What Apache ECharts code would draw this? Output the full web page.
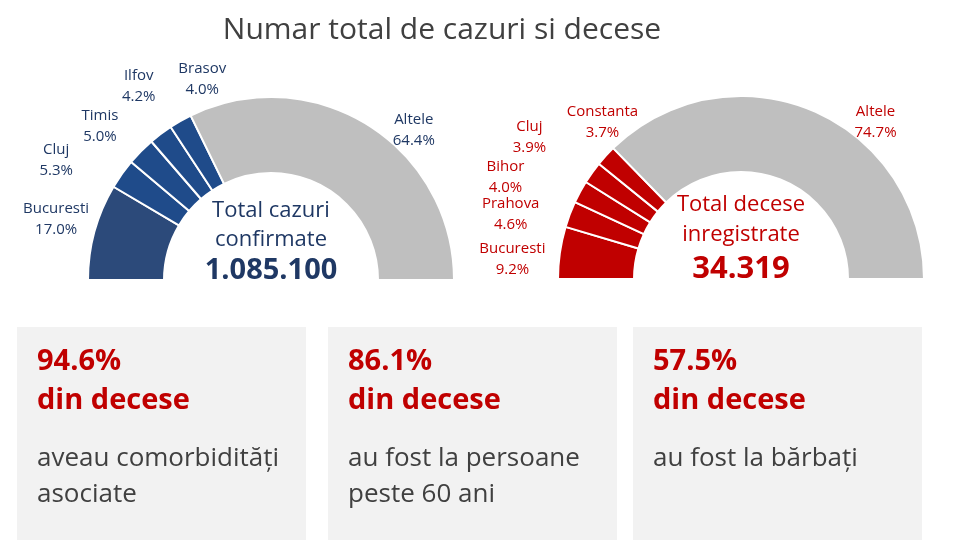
<!DOCTYPE html>
<html>
<head>
<meta charset="utf-8">
<script src="https://cdn.jsdelivr.net/npm/echarts@6/dist/echarts.min.js"></script>
<style>html,body{margin:0;padding:0;background:#fff}#main{width:961px;height:556px}</style>
</head>
<body>
<div id="main"></div>
<script>
// cazuri confirmate pe judete (%)
var cazuriJudete = ['Bucuresti', 'Cluj', 'Timis', 'Ilfov', 'Brasov', 'Altele'];
var cazuriProc = [17.0, 5.3, 5.0, 4.2, 4.0, 64.4];
// decese pe judete (%)
var deceseJudete = ['Bucuresti', 'Prahova', 'Bihor', 'Cluj', 'Constanta', 'Altele'];
var deceseProc = [9.2, 4.6, 4.0, 3.9, 3.7, 74.7];
var totalCazuri = '1.085.100';
var totalDecese = '34.319';
// casetele de jos
var caseteProc = ['94.6%', '86.1%', '57.5%'];
var caseteText = [['aveau comorbidități', 'asociate'], ['au fost la persoane', 'peste 60 ani'], ['au fost la bărbați']];

var FONT = 'Open Sans';
var BLUE = '#1F3864', RED = '#C00000', GREY = '#BFBFBF', TXT = '#404040';
var LABEL_R = 228;
//mici deplasari ale etichetelor (ca in Excel)
var nudgeCazuri = [[5, -1], [-29, 12], [-9, 7], [5, -12], [44, -3], [22, 44]];
var nudgeDecese = [[-3, 13], [-17, 16], [-35, 7], [-26, -9], [30, -3], [46, 53]];

//pozitia etichetei: pe directia mijlocului feliei
function makeLabelLayout(center, nudge){
	return function(params){
		var pts = params.labelLinePoints;
		if (!pts) return {};
		var dx = pts[0][0] - center[0], dy = pts[0][1] - center[1];
		var len = Math.sqrt(dx * dx + dy * dy);
		var n = nudge[params.dataIndex];
		return {
			x: center[0] + dx / len * LABEL_R + n[0],
			y: center[1] + dy / len * LABEL_R + n[1],
			align: 'center',
			verticalAlign: 'middle'
		};
	};
}

//semi-cerc
function semiDonut(center, names, vals, colors, labelColor, nudge){
	var data = [];
	for (var i = 0; i < names.length; i++) {
		data.push({name: names[i], value: vals[i], itemStyle: {color: colors[i]}});
	}
	return {
		type: 'pie',
		center: center,
		radius: [107, 183],
		startAngle: 180,
		endAngle: 0,
		clockwise: true,
		silent: true,
		avoidLabelOverlap: false,
		itemStyle: {borderColor: '#fff', borderWidth: 2},
		label: {
			show: true,
			position: 'outside',
			formatter: function(p){ return p.name + '\n' + p.value.toFixed(1) + '%'; },
			color: labelColor,
			fontSize: 15,
			lineHeight: 21,
			align: 'center',
			fontFamily: FONT
		},
		labelLine: {show: true, length: 10, length2: 0, lineStyle: {opacity: 0}},
		labelLayout: makeLabelLayout(center, nudge),
		data: data
	};
}

var graphics = [];
//titlu
graphics.push({type: 'text', x: 442, y: 30, style: {text: 'Numar total de cazuri si decese', font: '30px "Open Sans"', fill: TXT, align: 'center', verticalAlign: 'middle'}});

//text in centru
function centerText(cx, t, ys, color, bigSize){
	graphics.push({type: 'text', x: cx, y: ys[0], style: {text: t[0], font: '22px "Open Sans"', fill: color, align: 'center', verticalAlign: 'middle'}});
	graphics.push({type: 'text', x: cx, y: ys[1], style: {text: t[1], font: '22px "Open Sans"', fill: color, align: 'center', verticalAlign: 'middle'}});
	graphics.push({type: 'text', x: cx, y: ys[2], style: {text: t[2], font: 'bold ' + bigSize + 'px "Open Sans"', fill: color, align: 'center', verticalAlign: 'middle'}});
}
centerText(271, ['Total cazuri', 'confirmate', totalCazuri], [211, 240, 271], BLUE, 29);
centerText(741, ['Total decese', 'inregistrate', totalDecese], [205, 235, 269], RED, 31);

//casete
var boxX = [17, 328, 633];
for (var k = 0; k < caseteProc.length; k++) {
	var x0 = boxX[k];
	graphics.push({type: 'rect', shape: {x: x0, y: 327, width: 289, height: 213}, style: {fill: '#F2F2F2'}});
	graphics.push({type: 'text', x: x0 + 20, y: 362, style: {text: caseteProc[k], font: 'bold 29px "Open Sans"', fill: RED, verticalAlign: 'middle'}});
	graphics.push({type: 'text', x: x0 + 20, y: 401, style: {text: 'din decese', font: 'bold 29px "Open Sans"', fill: RED, verticalAlign: 'middle'}});
	for (var j = 0; j < caseteText[k].length; j++) {
		graphics.push({type: 'text', x: x0 + 20, y: 459 + j * 36, style: {text: caseteText[k][j], font: '26px "Open Sans"', fill: TXT, verticalAlign: 'middle'}});
	}
}

var myChart = echarts.init(document.getElementById('main'));
var option = {
	backgroundColor: '#fff',
	animation: false,
	series: [
		semiDonut([271, 280], cazuriJudete, cazuriProc, ['#2C4A7A', '#1F4B8A', '#1F4B8A', '#1F4B8A', '#1F4B8A', GREY], BLUE, nudgeCazuri),
		semiDonut([741, 279], deceseJudete, deceseProc, [RED, RED, RED, RED, RED, GREY], RED, nudgeDecese)
	],
	graphic: graphics
};
myChart.setOption(option);
</script>
</body>
</html>
